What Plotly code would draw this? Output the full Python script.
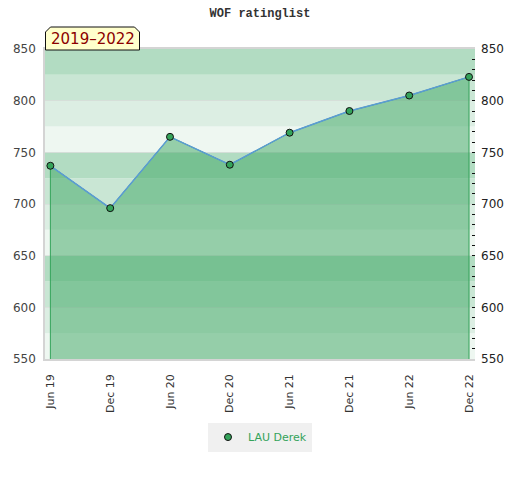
import plotly.graph_objects as go

# WOF rating history, half-yearly
periods = ["Jun 19", "Dec 19", "Jun 20", "Dec 20", "Jun 21", "Dec 21", "Jun 22", "Dec 22"]
ratings = [737, 696, 765, 738, 769, 790, 805, 823]
player = "LAU Derek"
span_label = "2019\u20132022"

Y_MIN, Y_MAX = 550, 850
BAND = 25
# band shades, repeating every 100 points (lightest first)
band_colors = ["#eef7f1", "#dceee3", "#c9e6d4", "#b2dcc2"]

GREEN = "#34a35a"

fig = go.Figure()

# shaded area under the rating line, closed down to the axis floor
fig.add_trace(go.Scatter(
    x=[periods[0]] + periods + [periods[-1]],
    y=[Y_MIN] + ratings + [Y_MIN],
    fill="toself",
    fillcolor="rgba(60,165,98,0.5)",
    line=dict(color=GREEN, width=1),
    mode="lines",
    hoverinfo="skip",
    showlegend=False,
))

fig.add_trace(go.Scatter(
    x=periods, y=ratings, mode="lines",
    line=dict(color="#5b9bd5", width=1.5),
    hoverinfo="skip", showlegend=False,
))

fig.add_trace(go.Scatter(
    x=periods,
    y=ratings,
    name=player,
    mode="markers",
    marker=dict(size=7, color=GREEN, line=dict(color="#111", width=1)),
))

# invisible copy so the right-hand axis gets drawn
fig.add_trace(go.Scatter(
    x=periods, y=ratings, yaxis="y2", mode="lines",
    line=dict(width=0), hoverinfo="skip", showlegend=False,
))

shapes = []
lo = Y_MIN
i = 0
while lo < Y_MAX:
    shapes.append(dict(
        type="rect", xref="paper", yref="y", layer="below",
        x0=0, x1=1, y0=lo, y1=lo + BAND,
        fillcolor=band_colors[i % len(band_colors)], line=dict(width=0),
    ))
    lo += BAND
    i += 1

# yellow tab with clipped top corners, pinned to the plot's top-left corner
shapes.append(dict(
    type="path", layer="above",
    xref="paper", yref="paper",
    xsizemode="pixel", ysizemode="pixel", xanchor=0, yanchor=1,
    path="M0.5,-1 L0.5,17 L5.5,22 L89.5,22 L94.5,17 L94.5,-1 Z",
    fillcolor="#ffffcc", line=dict(color="#111", width=1),
))

fig.update_layout(
    width=520,
    height=480,
    margin=dict(l=45, r=45, t=49, b=121, autoexpand=False),
    paper_bgcolor="white",
    plot_bgcolor="white",
    shapes=shapes,
    title=dict(
        text="<b>WOF ratinglist</b>",
        x=0.5, xanchor="center", y=0.973, yanchor="middle",
        font=dict(family="Liberation Mono", size=12, color="#333"),
    ),
    xaxis=dict(
        type="category",
        range=[-0.09, len(periods) - 1 + 0.1],
        tickangle=-90,
        tickfont=dict(family="DejaVu Sans", size=11, color="#333"),
        ticklabelstandoff=9,
        showgrid=False,
        zeroline=False,
        showline=True,
        linecolor="#d4d4d4",
        linewidth=1.5,
        mirror=True,
        ticks="",
        automargin=False,
    ),
    yaxis=dict(
        range=[Y_MIN, Y_MAX],
        tickvals=list(range(Y_MIN, Y_MAX + 1, 50)),
        tickfont=dict(family="DejaVu Sans", size=12, color="#444"),
        ticklabelstandoff=5,
        showgrid=True,
        gridcolor="rgba(215,215,215,0.6)",
        zeroline=False,
        showline=True,
        linecolor="#d4d4d4",
        linewidth=1.5,
        ticks="",
        automargin=False,
    ),
    yaxis2=dict(
        overlaying="y",
        side="right",
        range=[Y_MIN, Y_MAX],
        tickvals=list(range(Y_MIN, Y_MAX + 1, 50)),
        tickfont=dict(family="DejaVu Sans", size=12, color="#222"),
        ticklabelstandoff=5,
        showgrid=False,
        zeroline=False,
        showline=False,
        ticks="inside",
        ticklen=0,
        automargin=False,
        minor=dict(dtick=10, tick0=Y_MIN, ticks="inside", ticklen=3,
                   tickcolor="#111", tickwidth=1, showgrid=False),
    ),
    legend=dict(
        orientation="h",
        x=0.5, xanchor="center",
        y=-0.205, yanchor="top",
        bgcolor="#f0f0f0",
        font=dict(family="DejaVu Sans", size=11, color=GREEN),
    ),
    annotations=[dict(
        text=span_label,
        xref="paper", yref="paper",
        x=0, y=1, xanchor="center", yanchor="middle",
        xshift=47.5, yshift=10.5,
        showarrow=False,
        font=dict(family="DejaVu Sans", size=15, color="#8b0000"),
    )],
)

# drop the browser's default page margin so the figure sits at the top-left
fig.write_html(
    "out.html",
    config={"displayModeBar": False},
    post_script="document.body.style.margin = '0';",
)
